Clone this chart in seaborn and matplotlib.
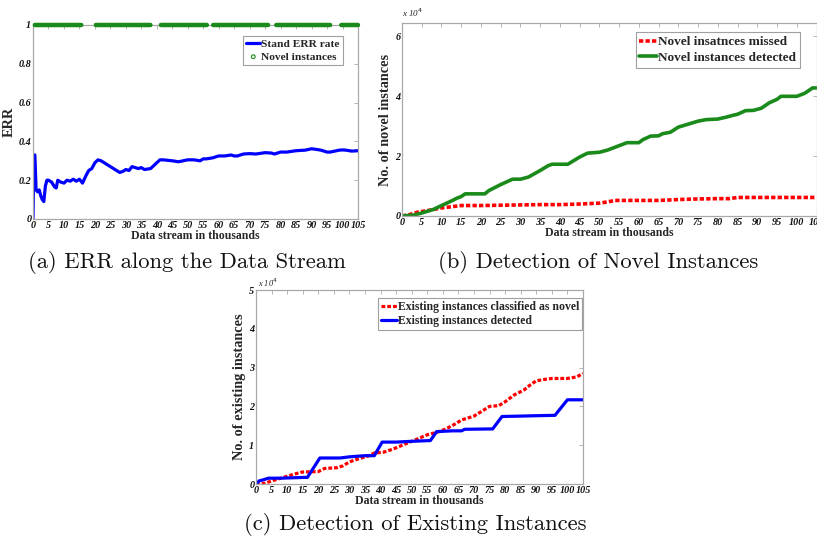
import numpy as np
import pandas as pd
import matplotlib
matplotlib.use("Agg")
import matplotlib.pyplot as plt
import seaborn as sns

# ---------------- data ----------------
# (a) ERR along the data stream
err_x = [0, 0.3, 0.6, 1, 1.5, 2, 2.5, 3, 3.5, 4, 4.5, 5, 6, 7, 7.5, 8, 9, 10, 11, 12, 13, 14, 15,
         16, 17, 18, 19, 20, 21, 22, 23, 25, 27, 28, 29, 30, 31, 32, 33, 34, 35, 36, 38, 40,
         41, 42, 45, 47, 50, 52, 54, 55, 56, 58, 60, 62, 64, 65, 66, 68, 70, 72, 75, 77, 78,
         80, 82, 85, 88, 90, 91, 93, 95, 96, 99, 100, 101, 103, 105]
err_y = [0, 0.33, 0.33, 0.15, 0.14, 0.15, 0.12, 0.10, 0.09, 0.17, 0.20, 0.20, 0.19, 0.165, 0.16,
         0.20, 0.19, 0.185, 0.20, 0.195, 0.205, 0.195, 0.205, 0.185, 0.22, 0.25, 0.26, 0.29,
         0.305, 0.30, 0.29, 0.27, 0.25, 0.24, 0.245, 0.255, 0.25, 0.27, 0.265, 0.26, 0.265,
         0.255, 0.26, 0.29, 0.305, 0.305, 0.30, 0.295, 0.305, 0.305, 0.30, 0.31, 0.31, 0.315,
         0.325, 0.325, 0.33, 0.325, 0.325, 0.335, 0.337, 0.335, 0.342, 0.34, 0.335, 0.345,
         0.345, 0.352, 0.355, 0.362, 0.36, 0.355, 0.345, 0.345, 0.355, 0.356, 0.355, 0.35, 0.352]
# intervals (in thousands) where novel instances appear
novel_start = [0.6, 20.3, 41.3, 58.2, 78.6, 99.6]
novel_end = [15.7, 38.0, 56.3, 76.0, 96.0, 105.0]

# (b) novel instances (x 10^4)
det_x = [0, 3, 5, 8, 10, 12, 14, 15, 16, 21, 22, 25, 28, 30, 32, 35, 37, 38, 42, 45, 47, 50,
         52, 55, 57, 60, 61, 63, 65, 66, 68, 70, 72, 75, 77, 80, 82, 84, 85, 87, 89, 91, 93,
         95, 96, 100, 102, 104, 105]
det_y = [0, 0.03, 0.10, 0.22, 0.35, 0.47, 0.60, 0.65, 0.74, 0.74, 0.85, 1.05, 1.23, 1.23, 1.30,
         1.52, 1.68, 1.73, 1.73, 1.97, 2.10, 2.13, 2.20, 2.35, 2.45, 2.45, 2.55, 2.67, 2.68,
         2.75, 2.80, 2.97, 3.05, 3.17, 3.22, 3.24, 3.30, 3.37, 3.40, 3.52, 3.53, 3.60, 3.78,
         3.90, 4.00, 4.00, 4.10, 4.28, 4.28]
miss_x = [0, 2, 4, 6, 8, 10, 12, 15, 20, 25, 30, 35, 40, 45, 50, 52, 54, 60, 65, 70, 75, 80,
          83, 85, 90, 95, 100, 105]
miss_y = [0, 0.05, 0.13, 0.17, 0.22, 0.27, 0.30, 0.35, 0.35, 0.36, 0.37, 0.38, 0.38, 0.40,
          0.43, 0.47, 0.52, 0.52, 0.52, 0.55, 0.57, 0.58, 0.58, 0.62, 0.62, 0.62, 0.62, 0.62]

# (c) existing instances (x 10^4)
exd_x = [0, 1, 2, 4, 8, 15.5, 16.5, 20.5, 27, 30, 35, 38, 40.5, 45, 50, 56, 58, 63, 66, 67,
         76, 79, 85, 90, 96, 100, 105]
exd_y = [0, 0.08, 0.10, 0.15, 0.15, 0.17, 0.17, 0.67, 0.67, 0.70, 0.73, 0.73, 1.08, 1.08,
         1.10, 1.12, 1.35, 1.37, 1.37, 1.41, 1.42, 1.74, 1.75, 1.76, 1.77, 2.17, 2.17]
exn_x = [0, 3, 5, 8, 10, 13, 15, 20, 22, 26, 28, 30, 33, 36, 38, 41, 44, 47, 50, 53, 55, 58,
         61, 64, 66, 70, 72, 75, 78, 80, 83, 86, 88, 90, 93, 95, 100, 103, 105]
exn_y = [0, 0.02, 0.08, 0.15, 0.20, 0.27, 0.31, 0.32, 0.40, 0.42, 0.47, 0.57, 0.65, 0.72,
         0.80, 0.82, 0.90, 1.00, 1.10, 1.20, 1.27, 1.33, 1.42, 1.55, 1.65, 1.75, 1.85, 2.00,
         2.02, 2.12, 2.30, 2.42, 2.55, 2.66, 2.70, 2.72, 2.72, 2.76, 2.85]

xticks = list(range(0, 106, 5))
xtick_labels = [str(t) for t in xticks]
captions = ["(a) ERR along the Data Stream", "(b) Detection of Novel Instances",
            "(c) Detection of Existing Instances"]

# ---------------- style ----------------
sns.set_theme(style="white")
plt.rcParams["font.family"] = ["Liberation Serif", "DejaVu Serif"]

W, H = 817, 541
fig = plt.figure(figsize=(W / 100, H / 100), dpi=100)
fig.patch.set_facecolor("white")


def add_ax(left, top, right, bottom):
    return fig.add_axes([left / W, (H - bottom) / H, (right - left) / W, (bottom - top) / H])


FRAME = "#a8a8a8"
tick_font = dict(family="Liberation Serif", style="italic", size=7.3, weight="bold")
xlab_font = dict(family="Liberation Serif", weight="bold", size=8.5)
ylab_font = dict(family="Liberation Serif", weight="bold", size=10.3)
leg_prop = dict(family="Liberation Serif", weight="bold", size=8.5)


def style_ax(ax, ylim, yticks, ylabels, ylabel):
    ax.set_xlim(0, 105)
    ax.set_ylim(*ylim)
    ax.set_xticks(xticks)
    ax.set_xticklabels(xtick_labels, fontdict=tick_font)
    ax.set_yticks(yticks)
    ax.set_yticklabels(ylabels, fontdict=tick_font)
    ax.tick_params(direction="in", length=3, width=0.6, color=FRAME, pad=1.2,
                   top=True, right=True, labelcolor="#111111")
    for s in ax.spines.values():
        s.set_color(FRAME)
        s.set_linewidth(0.9)
    ax.set_xlabel("Data stream in thousands", fontdict=xlab_font, labelpad=0)
    ax.set_ylabel(ylabel, fontdict=ylab_font, labelpad=2)
    ax.grid(False)


def frame_legend(leg):
    leg.get_frame().set_edgecolor("#888888")
    leg.get_frame().set_linewidth(0.8)


# ---------- (a) ----------
axA = add_ax(33, 25, 358, 219)
dfA = pd.DataFrame({"x": err_x, "y": err_y})
sns.lineplot(data=dfA, x="x", y="y", ax=axA, color="#0000ff", lw=2.3, label="Stand ERR rate",
             estimator=None, sort=False)
nov_x = np.concatenate([np.arange(s, e, 0.12) for s, e in zip(novel_start, novel_end)])
dfN = pd.DataFrame({"x": nov_x, "y": np.ones_like(nov_x)})
sns.scatterplot(data=dfN, x="x", y="y", ax=axA, marker="o", s=5, facecolor="none",
                edgecolor="#1a8a1a", linewidth=0.8, label="Novel instances", clip_on=False,
                zorder=5)
style_ax(axA, (0, 1), [0, 0.2, 0.4, 0.6, 0.8, 1], ["0", "0.2", "0.4", "0.6", "0.8", "1"], "ERR")
legA = axA.legend(loc="upper right", prop=dict(leg_prop, size=8.2), frameon=True, fancybox=False,
                  borderpad=0.3, handlelength=1.2, handletextpad=0.1, labelspacing=0.2,
                  borderaxespad=0, bbox_to_anchor=(0.954, 0.943), markerscale=1.2)
frame_legend(legA)

# ---------- (b) ----------
axB = add_ax(402, 23, 816.5, 216)
dfB1 = pd.DataFrame({"x": miss_x, "y": np.array(miss_y) * 1e4})
dfB2 = pd.DataFrame({"x": det_x, "y": np.array(det_y) * 1e4})
sns.lineplot(data=dfB1, x="x", y="y", ax=axB, color="#ff0000", lw=2.6,
             linestyle=(0, (1.2, 0.6)), label="Novel insatnces missed", estimator=None, sort=False)
sns.lineplot(data=dfB2, x="x", y="y", ax=axB, color="#1a8a1a", lw=2.6,
             label="Novel instances detected", estimator=None, sort=False)
style_ax(axB, (0, 6.45e4), [0, 2e4, 4e4, 6e4], ["0", "2", "4", "6"], "No. of novel instances")
legB = axB.legend(loc="upper right", prop=dict(leg_prop, size=9.5), frameon=True, fancybox=False,
                  borderpad=0.3, handlelength=1.3, handletextpad=0.1, labelspacing=0.25,
                  borderaxespad=0, bbox_to_anchor=(0.960, 0.953))
frame_legend(legB)
axB.text(0.0, 1.02, r"x 10$^4$", transform=axB.transAxes, fontsize=6.5, style="italic",
         ha="left", va="bottom", color="#222222")

# ---------- (c) ----------
axC = add_ax(256, 290, 583, 484)
dfC1 = pd.DataFrame({"x": exn_x, "y": np.array(exn_y) * 1e4})
dfC2 = pd.DataFrame({"x": exd_x, "y": np.array(exd_y) * 1e4})
sns.lineplot(data=dfC1, x="x", y="y", ax=axC, color="#ff0000", lw=2.3,
             linestyle=(0, (1.2, 0.6)), label="Existing instances classified as novel",
             estimator=None, sort=False)
sns.lineplot(data=dfC2, x="x", y="y", ax=axC, color="#0000ff", lw=2.3,
             label="Existing instances detected", estimator=None, sort=False)
style_ax(axC, (0, 5e4), [0, 1e4, 2e4, 3e4, 4e4, 5e4], ["0", "1", "2", "3", "4", "5"],
         "No. of existing instances")
legC = axC.legend(loc="upper right", prop=leg_prop, frameon=True, fancybox=False,
                  borderpad=0.25, handlelength=1.3, handletextpad=0.1, labelspacing=0.15,
                  borderaxespad=0, bbox_to_anchor=(0.997, 0.959))
frame_legend(legC)
axC.text(0.005, 1.005, r"x 10$^4$", transform=axC.transAxes, fontsize=6, style="italic",
         ha="left", va="bottom", color="#222222")

# ---------- captions ----------
cap_font = dict(family=["cmr10", "DejaVu Serif"], size=16.3, color="#111111")
fig.text(187 / W, 1 - 263 / H, captions[0], ha="center", va="center", **cap_font)
fig.text(598 / W, 1 - 263 / H, captions[1], ha="center", va="center", **cap_font)
fig.text(415 / W, 1 - 525 / H, captions[2], ha="center", va="center", **cap_font)

fig.savefig("out.png", dpi=100, facecolor="white")
